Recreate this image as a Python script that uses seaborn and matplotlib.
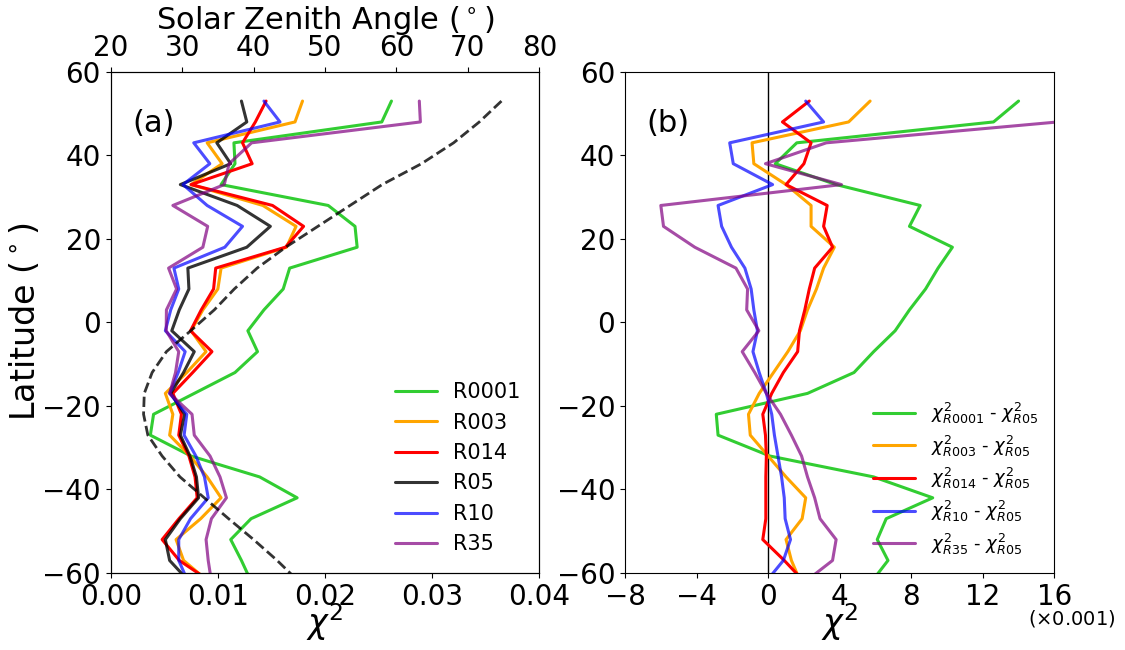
import numpy as np
import pandas as pd
import matplotlib
matplotlib.use("Agg")
import matplotlib.pyplot as plt
import seaborn as sns

sns.set_style("ticks", rc={'axes.edgecolor': 'black', 'text.color': 'black',
                           'axes.labelcolor': 'black', 'xtick.color': 'black',
                           'ytick.color': 'black'})
plt.rcParams['font.family'] = ['DejaVu Sans']
plt.rcParams['mathtext.fontset'] = 'dejavusans'

# latitude of each sample (degrees)
lat = [53, 48, 43, 38, 33, 28, 23, 18, 13, 8, 3, -2, -7, -12, -17, -22, -27, -32,
       -37, -42, -47, -52, -57, -62]

# chi^2 values in units of 0.001
R0001 = [26.2, 25.3, 11.5, 11.6, 10.3, 20.3, 22.8, 23.0, 16.7, 16.1, 14.3, 12.8,
         13.7, 11.6, 7.8, 4.0, 3.7, 7.5, 13.9, 17.4, 13.1, 11.2, 12.2, 13.1]
R003 = [17.9, 17.2, 9.0, 10.4, 7.5, 14.2, 17.3, 16.4, 10.3, 10.0, 8.6, 7.5,
        8.9, 7.1, 5.1, 5.8, 5.5, 7.4, 9.0, 10.3, 8.4, 6.1, 6.8, 9.1]
R014 = [14.5, 13.5, 12.3, 13.2, 7.5, 15.1, 18.0, 16.3, 9.8, 9.6, 8.45, 7.45,
        9.45, 7.65, 5.8, 6.6, 6.35, 7.3, 7.87, 8.07, 6.37, 4.8, 6.4, 9.3]
R05 = [12.2, 12.7, 9.9, 11.2, 6.5, 11.8, 14.9, 12.7, 7.2, 7.3, 6.4, 5.7,
       7.8, 6.8, 5.6, 6.9, 6.5, 7.4, 8.0, 8.2, 6.5, 5.1, 5.5, 7.3]
R10 = [14.3, 15.8, 7.75, 9.25, 6.75, 9.0, 12.3, 10.65, 5.9, 6.35, 5.6, 5.1,
       6.95, 6.3, 5.5, 7.1, 6.85, 7.95, 8.75, 9.1, 7.45, 6.35, 6.35, 7.2]
R35 = [28.8, 28.9, 13.15, 11.05, 10.6, 5.8, 9.05, 8.6, 5.4, 6.15, 5.2, 5.18,
       6.35, 6.05, 5.5, 7.59, 7.8, 9.27, 10.2, 10.8, 9.4, 8.9, 9.1, 9.4]

# solar zenith angle (degrees) at each latitude
sza = [74.7, 71.6, 68.0, 63.5, 58.0, 53.5, 49.0, 44.5, 40.5, 37.3, 34.5, 31.2,
       27.8, 25.8, 24.7, 24.6, 25.2, 27.2, 29.7, 33.1, 36.5, 40.0, 43.3, 46.3]

runs = ['R0001', 'R003', 'R014', 'R05', 'R10', 'R35']
series = {'R0001': R0001, 'R003': R003, 'R014': R014, 'R05': R05,
          'R10': R10, 'R35': R35}
colors = {'R0001': 'limegreen', 'R003': 'orange', 'R014': 'red',
          'R05': 'k', 'R10': 'b', 'R35': 'purple'}
alphas = {'R0001': 1.0, 'R003': 1.0, 'R014': 1.0, 'R05': 0.8,
          'R10': 0.7, 'R35': 0.7}
diff_labels = {'R0001': r'$\chi^2_{R0001}$ - $\chi^2_{R05}$',
               'R003': r'$\chi^2_{R003}$ - $\chi^2_{R05}$',
               'R014': r'$\chi^2_{R014}$ - $\chi^2_{R05}$',
               'R10': r'$\chi^2_{R10}$ - $\chi^2_{R05}$',
               'R35': r'$\chi^2_{R35}$ - $\chi^2_{R05}$'}

fig = plt.figure(figsize=(11.25, 6.5), dpi=100)
axL = fig.add_axes([0.0984, 0.1185, 0.381, 0.771])
axR = fig.add_axes([0.5556, 0.1185, 0.3816, 0.771])

TICK = 20
LW = 2.2

# ---- left panel ----
for r in runs:
    df = pd.DataFrame({'chi2': np.array(series[r]) * 1e-3, 'lat': lat})
    sns.lineplot(data=df, x='chi2', y='lat', sort=False, estimator=None,
                 orient='y', color=colors[r], alpha=alphas[r], lw=LW,
                 label=r, ax=axL)
axL.set_xlim(0, 0.04)
axL.set_ylim(-60, 60)
axL.set_xticks([0, 0.01, 0.02, 0.03, 0.04])
axL.set_xticklabels(['0.00', '0.01', '0.02', '0.03', '0.04'])
axL.set_yticks(range(-60, 61, 20))
axL.tick_params(labelsize=TICK)
axL.set_xlabel(r'$\chi^2$', fontsize=24, labelpad=-7)
axL.set_ylabel(r'Latitude ($^\circ$)', fontsize=24, labelpad=0)
axL.legend(loc='lower right', frameon=False, fontsize=15, handlelength=2.0,
           labelspacing=0.5)
axL.text(0.05, 0.88, '(a)', transform=axL.transAxes, fontsize=22)

axT = axL.twiny()
dft = pd.DataFrame({'sza': sza, 'lat': lat})
sns.lineplot(data=dft, x='sza', y='lat', sort=False, estimator=None,
             orient='y', color='k', alpha=0.8, lw=2, ls='--', ax=axT,
             legend=False)
axT.set_xlim(20, 80)
axT.set_ylim(-60, 60)
axT.set_xticks(range(20, 81, 10))
axT.tick_params(labelsize=TICK)
axT.set_xlabel(r'Solar Zenith Angle ($^\circ$)', fontsize=22)
axT.set_ylabel('')

# ---- right panel ----
axR.axvline(0, color='k', lw=1)
base = np.array(R05)
for r in runs:
    if r == 'R05':
        continue
    d = np.array(series[r]) - base
    df = pd.DataFrame({'d': d, 'lat': lat})
    sns.lineplot(data=df, x='d', y='lat', sort=False, estimator=None,
                 orient='y', color=colors[r], alpha=alphas[r], lw=LW,
                 label=diff_labels[r], ax=axR)
axR.set_xlim(-8, 16)
axR.set_ylim(-60, 60)
axR.set_xticks(range(-8, 17, 4))
axR.set_yticks(range(-60, 61, 20))
axR.tick_params(labelsize=TICK)
axR.set_xlabel(r'$\chi^2$', fontsize=24, labelpad=-7)
axR.set_ylabel('')
axR.legend(loc='lower right', frameon=False, fontsize=13,
           handlelength=2.3, handletextpad=0.9, labelspacing=0.42)
axR.text(0.05, 0.88, '(b)', transform=axR.transAxes, fontsize=22)
axR.text(1.04, -0.07, r'($\times$0.001)', transform=axR.transAxes,
         fontsize=14, ha='center', va='top')

fig.savefig('out.png', dpi=100)
